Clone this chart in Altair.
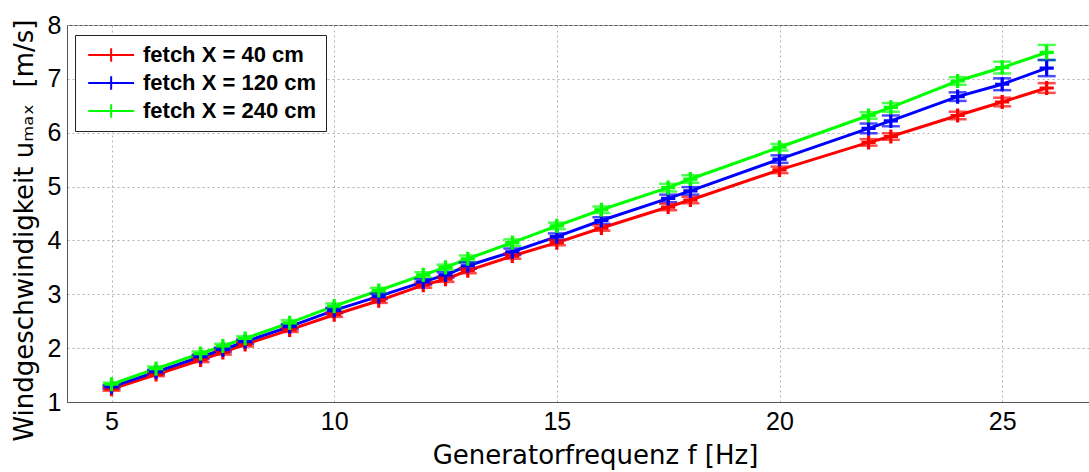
import altair as alt
import pandas as pd

freq = [5, 6, 7, 7.5, 8, 9, 10, 11, 12, 12.5, 13, 14, 15, 16, 17.5, 18, 20, 22, 22.5, 24, 25, 26]

u_40 = [1.24, 1.51, 1.78, 1.92, 2.07, 2.34, 2.62, 2.88, 3.17, 3.28, 3.44, 3.71, 3.96, 4.23, 4.62, 4.75, 5.31, 5.82, 5.93, 6.32, 6.57, 6.83]
u_120 = [1.28, 1.56, 1.84, 1.97, 2.12, 2.40, 2.70, 2.96, 3.23, 3.36, 3.53, 3.79, 4.07, 4.37, 4.78, 4.92, 5.51, 6.08, 6.22, 6.67, 6.90, 7.20]
u_240 = [1.33, 1.62, 1.90, 2.04, 2.18, 2.47, 2.78, 3.07, 3.36, 3.50, 3.66, 3.96, 4.27, 4.57, 4.98, 5.14, 5.73, 6.32, 6.47, 6.96, 7.21, 7.49]

err_40 = [0.03, 0.03, 0.04, 0.04, 0.04, 0.04, 0.04, 0.04, 0.05, 0.05, 0.05, 0.05, 0.05, 0.05, 0.06, 0.06, 0.06, 0.06, 0.06, 0.07, 0.08, 0.09]
err_120 = [0.03, 0.04, 0.04, 0.04, 0.04, 0.05, 0.05, 0.05, 0.05, 0.05, 0.06, 0.06, 0.06, 0.06, 0.07, 0.07, 0.07, 0.09, 0.10, 0.08, 0.11, 0.15]
err_240 = [0.03, 0.04, 0.04, 0.04, 0.04, 0.05, 0.05, 0.05, 0.05, 0.05, 0.06, 0.06, 0.06, 0.06, 0.07, 0.07, 0.06, 0.06, 0.08, 0.07, 0.11, 0.14]

series_names = ["fetch X = 40 cm", "fetch X = 120 cm", "fetch X = 240 cm"]
series_colors = ["#ff0000", "#0000ff", "#00ff00"]

x_ticks = [5, 10, 15, 20, 25]
y_ticks = [1, 2, 3, 4, 5, 6, 7, 8]

rows = []
for name, us, es in zip(series_names, [u_40, u_120, u_240], [err_40, err_120, err_240]):
    for f, u, e in zip(freq, us, es):
        rows.append({"f": f, "u": u, "lo": u - e, "hi": u + e, "series": name})
df = pd.DataFrame(rows)
df["order"] = df["series"].map({n: i for i, n in enumerate(series_names)})

xscale = alt.Scale(domain=[4, 26.95], nice=False, zero=False)
yscale = alt.Scale(domain=[1, 8], nice=False, zero=False)
cscale = alt.Scale(domain=series_names, range=series_colors)

color = alt.Color(
    "series:N",
    scale=cscale,
    sort=series_names,
    legend=alt.Legend(
        title=None,
        orient="none",
        legendX=8,
        legendY=10,
        direction="vertical",
        symbolType="M-0.8,0L4.6,0M1.9,-0.8L1.9,0.8",
        symbolSize=289,
        symbolStrokeWidth=2,
        symbolFillColor="transparent",
        labelFont="Liberation Sans",
        labelFontSize=22,
        labelFontWeight="bold",
        labelColor="black",
        labelOffset=37,
        rowPadding=6,
        padding=9,
        strokeColor="#222222",
        fillColor="white",
        labelLimit=400,
    ),
)

xenc = alt.X(
    "f:Q",
    scale=xscale,
    axis=alt.Axis(
        values=x_ticks,
        format="d",
        title="Generatorfrequenz f [Hz]",
        titleFont="DejaVu Sans",
        titleFontSize=26,
        titleFontWeight="normal",
        titleColor="black",
        titlePadding=8,
        titleX=528,
        labelFont="Liberation Sans",
        labelFontSize=25,
        labelColor="black",
        labelPadding=7,
        ticks=False,
        domainColor="#555555",
        grid=True,
        gridColor="#b0b0b0",
        gridDash=[2, 3],
        gridWidth=1,
    ),
)
yenc = alt.Y(
    "u:Q",
    scale=yscale,
    axis=alt.Axis(
        values=y_ticks,
        format="d",
        title="Windgeschwindigkeit uₘₐₓ\u00a0\u00a0[m/s]",
        titleFont="DejaVu Sans",
        titleFontSize=26,
        titleFontWeight="normal",
        titleColor="black",
        titleX=-30,
        titleY=205,
        labelFont="Liberation Sans",
        labelFontSize=25,
        labelColor="black",
        labelPadding=6,
        ticks=False,
        domainColor="#555555",
        grid=True,
        gridColor="#b0b0b0",
        gridDash=[2, 3],
        gridWidth=1,
    ),
)

base = alt.Chart(df)
nolegend = alt.Color("series:N", legend=None, scale=cscale)

lines = base.mark_line(strokeWidth=3).encode(x=xenc, y=yenc, color=color, order="order:Q")

bars = base.mark_rule(strokeWidth=2.5).encode(x="f:Q", y="lo:Q", y2="hi:Q", color=nolegend)
caps_lo = base.mark_tick(orient="horizontal", size=18, thickness=2.5).encode(x="f:Q", y="lo:Q", color=nolegend)
caps_hi = base.mark_tick(orient="horizontal", size=18, thickness=2.5).encode(x="f:Q", y="hi:Q", color=nolegend)
points = base.mark_point(shape="M-1,0L1,0M0,-1L0,1", size=200, strokeWidth=3.2, filled=False, opacity=1).encode(
    x="f:Q", y="u:Q", stroke=nolegend
)

chart = (
    alt.layer(lines, bars, caps_lo, caps_hi, points)
    .properties(
        width=1022,
        height=377,
        autosize=alt.AutoSizeParams(type="none"),
        padding={"left": 67, "top": 25, "right": 0, "bottom": 70},
        background="white",
    )
    .configure_view(stroke="#555555", strokeWidth=1)
)

chart.save("out.html", embed_options={"renderer": "svg", "actions": False})
